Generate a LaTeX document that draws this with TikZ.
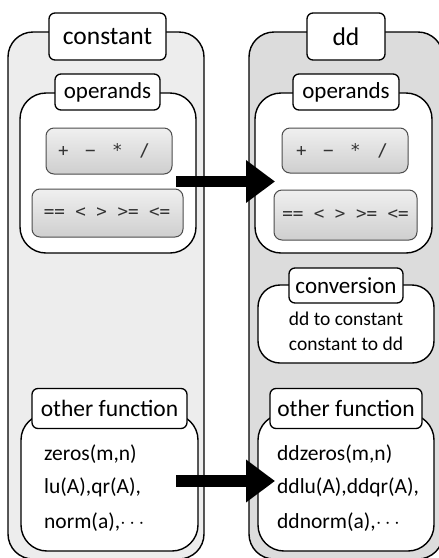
\documentclass[tikz,border=0pt]{standalone}
\usepackage{fontspec}
\setmainfont{Carlito}
\newfontfamily\btnfont{DejaVu Sans Mono}
\usetikzlibrary{arrows.meta}
\definecolor{leftbg}{HTML}{EDEDED}
\definecolor{rightbg}{HTML}{DCDCDC}
\definecolor{btntext}{HTML}{333333}
\newcommand{\opgap}{\hspace{16.5pt}}
\tikzset{
  container/.style={draw=black, line width=1.4pt, rounded corners=25pt},
  panel/.style={draw=black, fill=white, line width=1.4pt, rounded corners=26pt},
  titlebox/.style={draw=black, fill=white, line width=1.3pt, rounded corners=6pt, inner sep=0pt, anchor=center},
  btn/.style={draw=black!70, line width=1pt, rounded corners=8pt, top color=gray!12, bottom color=gray!38},
  btnlabel/.style={font=\btnfont\fontsize{17.5}{20}\selectfont, text=btntext, anchor=center},
  bodytext/.style={font=\fontsize{21.5}{25}\selectfont, anchor=base west, inner sep=0pt},
  convtext/.style={font=\fontsize{19.5}{23}\selectfont, anchor=base, inner sep=0pt},
  blockarrow/.style={line width=11.5pt, -{Triangle[length=29pt,width=41pt]}}
}
\begin{document}
\begin{tikzpicture}[x=1pt,y=-1pt]
\useasboundingbox (0,0) rectangle (439,558);
% containers
\draw[container, fill=leftbg] (8,32) rectangle (204,559);
\draw[container, fill=rightbg] (249,32) rectangle (443,559);
\node[titlebox, minimum width=117pt, minimum height=47pt, font=\fontsize{25.5}{30}\selectfont] (tconst) at (107.5,36.5) {constant};
\node[titlebox, minimum width=78pt, minimum height=47pt, font=\fontsize{25.5}{30}\selectfont] (tdd) at (346,36.5) {dd};
% operands panels
\draw[panel] (20,93) rectangle (196,253);
\draw[panel] (255,93) rectangle (432,253);
\node[titlebox, minimum width=105pt, minimum height=36pt, font=\fontsize{23}{27}\selectfont] (topl) at (107.5,92) {operands};
\node[titlebox, minimum width=106pt, minimum height=36pt, font=\fontsize{23}{27}\selectfont] (topr) at (346,92) {operands};
% buttons
\draw[btn] (46,128) rectangle (172,174);
\node[btnlabel] (b1l) at (104,151) {+\opgap−\opgap*\opgap/};
\draw[btn] (32,189) rectangle (183,237);
\node[btnlabel] (b2l) at (107,213) {== < > >= <=};
\draw[btn] (282,128) rectangle (408,173);
\node[btnlabel] (b1r) at (342,150.5) {+\opgap−\opgap*\opgap/};
\draw[btn] (274,190) rectangle (417,240);
\node[btnlabel] (b2r) at (345.5,215) {== < > >= <=};
% conversion
\draw[panel, rounded corners=22pt] (258,285) rectangle (434,363);
\node[titlebox, minimum width=114pt, minimum height=35pt, font=\fontsize{23}{27}\selectfont] (tconv) at (346,285.5) {conversion};
\node[convtext] (c1) at (346,325) {dd to constant};
\node[convtext] (c2) at (346,350) {constant to dd};
% other function
\draw[panel] (21,414) rectangle (198,551);
\draw[panel] (258,414) rectangle (434,551);
\node[titlebox, minimum width=155pt, minimum height=40pt, font=\fontsize{23.5}{27}\selectfont] (tofl) at (109.5,408.5) {other function};
\node[titlebox, minimum width=152pt, minimum height=40pt, font=\fontsize{23.5}{27}\selectfont] (tofr) at (346,408.5) {other function};
\node[bodytext] (l1) at (44,460) {zeros(m,n)};
\node[bodytext] (l2) at (44,493) {lu(A),qr(A),};
\node[bodytext] (l3) at (44,528) {norm(a),\(\cdots\)};
\node[bodytext] (r1) at (277,460) {ddzeros(m,n)};
\node[bodytext] (r2) at (277,493) {ddlu(A),ddqr(A),};
\node[bodytext] (r3) at (277,528) {ddnorm(a),\(\cdots\)};
% arrows
\coordinate (a1s) at (176,181.5);
\coordinate (a1e) at (275,181.5);
\coordinate (a2s) at (176,481);
\coordinate (a2e) at (275,481);
\draw[blockarrow] (a1s) -- (a1e);
\draw[blockarrow] (a2s) -- (a2e);
\end{tikzpicture}
\end{document}
